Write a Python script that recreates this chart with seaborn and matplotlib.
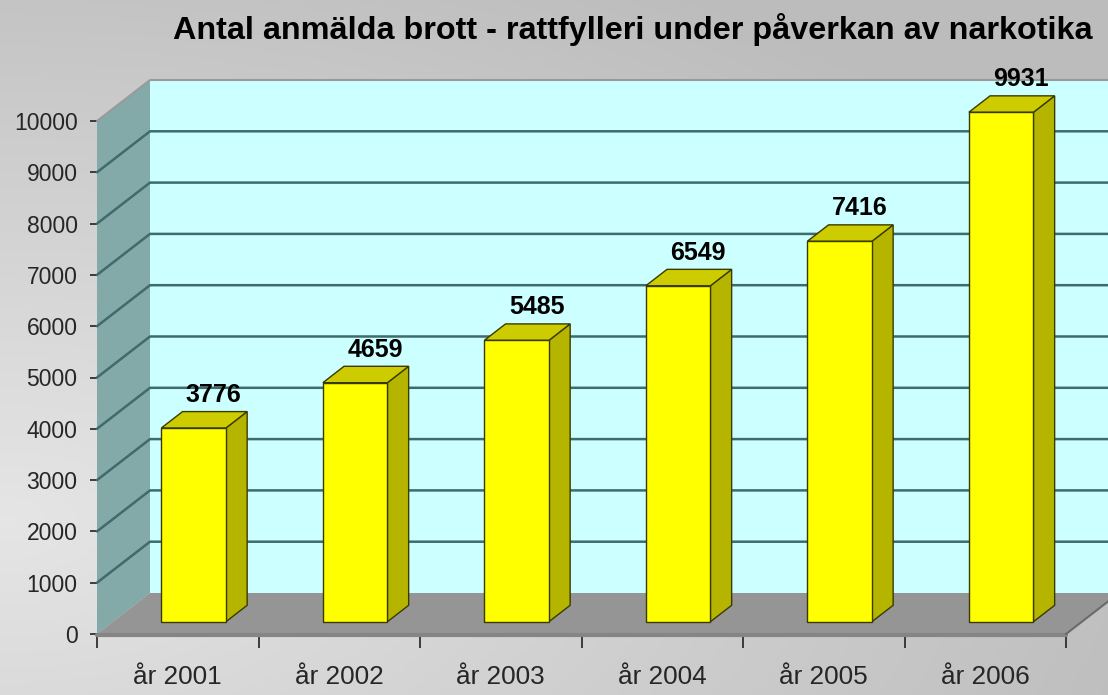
import numpy as np
import pandas as pd
import matplotlib
matplotlib.use("Agg")
import matplotlib.pyplot as plt
import seaborn as sns
from matplotlib.patches import Polygon
from matplotlib.lines import Line2D
from matplotlib.transforms import IdentityTransform, Affine2D

# ---------------- data ----------------
years = ["år 2001", "år 2002", "år 2003", "år 2004", "år 2005", "år 2006"]
values = [3776, 4659, 5485, 6549, 7416, 9931]
yticks = list(range(0, 10001, 1000))
title = "Antal anmälda brott - rattfylleri under påverkan av narkotika"

# ---------------- style ----------------
sns.set_style("white")
plt.rcParams["font.family"] = ["Liberation Sans", "DejaVu Sans"]

W, H, DPI = 1108, 695, 100
fig = plt.figure(figsize=(W / DPI, H / DPI), dpi=DPI)

# background gradient
bg = fig.add_axes([0, 0, 1, 1], zorder=-10)
gx, gy = np.meshgrid(np.linspace(0, 1, 300), np.linspace(1, 0, 200))
dist = np.sqrt(((gx - 0.0) * 1.0) ** 2 + ((gy - 0.25) * 1.2) ** 2)
shade = 0.90 - 0.16 * np.clip(dist / 1.1, 0, 1)
bg.imshow(np.dstack([shade] * 3), extent=[0, 1, 0, 1], aspect="auto")
bg.axis("off")

ax = fig.add_axes([97 / W, 61 / H, 969 / W, 513 / H])
df = pd.DataFrame({"year": years, "value": values})
sns.barplot(data=df, x="year", y="value", color="#FFFF00", width=0.4,
            edgecolor="#3a3a00", linewidth=1.0, saturation=1, ax=ax)
ax.set_xlim(-0.5, 5.5)
ax.set_ylim(0, 10000)
ax.patch.set_visible(False)
for s in ax.spines.values():
    s.set_visible(False)

DX, DY = 53.0, 41.0   # full depth in pixels
F0, F1 = 0.3, 0.7     # bar depth range


def P(x, y, d):
    px, py = ax.transData.transform((x, y))
    return (px + d * DX, py + d * DY)


ID = IdentityTransform()
x0, x1 = -0.5, 5.5
ymax = 10000


def poly(pts, fc, ec="none", lw=0, z=1):
    ax.add_artist(Polygon(pts, closed=True, transform=ID, facecolor=fc,
                          edgecolor=ec, lw=lw, zorder=z, clip_on=False))


def line(pts, color, lw, z):
    ax.add_artist(Line2D([p[0] for p in pts], [p[1] for p in pts], transform=ID,
                         color=color, lw=lw, zorder=z, clip_on=False))


# back wall and side wall
poly([P(x0, 0, 1), P(x1, 0, 1), P(x1, ymax, 1), P(x0, ymax, 1)], "#CCFFFF", z=0.5)
poly([P(x0, 0, 0), P(x0, ymax, 0), P(x0, ymax, 1), P(x0, 0, 1)], "#84A9A9", z=0.5)
line([P(x0, ymax, 0), P(x0, ymax, 1), P(x1, ymax, 1)], "#9a9a9a", 1.5, 0.6)
for v in yticks[1:-1]:
    line([P(x0, v, 0), P(x0, v, 1), P(x1, v, 1)], "#3F6B6B", 1.8, 0.6)
# floor
poly([P(x0, 0, 0), P(x1, 0, 0), P(x1, 0, 1), P(x0, 0, 1)], "#959595", z=0.7)
a, b = P(x0, 0, 0), P(x1, 0, 0)
line([(a[0], a[1] - 1), (b[0], b[1] - 1)], "#858585", 3, 0.75)
line([P(x1, 0, 0), P(x1, 0, 1)], "#6a6a6a", 1.5, 0.75)

# bars: shift front faces and add side/top faces
shift = Affine2D().translate(F0 * DX, F0 * DY)
for patch, v in zip(ax.patches[:len(values)], values):
    bx, bw, bh = patch.get_x(), patch.get_width(), patch.get_height()
    patch.set_transform(ax.transData + shift)
    patch.set_clip_on(False)
    patch.set_zorder(3)
    side = [P(bx + bw, 0, F0), P(bx + bw, bh, F0), P(bx + bw, bh, F1), P(bx + bw, 0, F1)]
    top = [P(bx, bh, F0), P(bx + bw, bh, F0), P(bx + bw, bh, F1), P(bx, bh, F1)]
    poly(side, "#B5B500", "#3a3a00", 1.0, 2.5)
    poly(top, "#CCCC00", "#3a3a00", 1.0, 2.5)
    ax.annotate(f"{v}", xy=(bx + bw / 2, bh), xycoords="data",
                xytext=(F1 * DX - 1, F0 * DY + 33), textcoords="offset pixels",
                ha="center", va="center", fontsize=18, fontweight="bold",
                color="black", annotation_clip=False, zorder=5)

# axes ticks
ax.set_yticks(yticks)
ax.set_yticklabels([str(t) for t in yticks])
ax.tick_params(axis="y", which="major", length=5, width=1.2, color="#222222",
               labelsize=16.5, pad=9, left=True)
ax.set_xticks(range(len(years)))
ax.set_xticklabels(years)
ax.set_xticks(np.arange(-0.5, len(years), 1), minor=True)
ax.tick_params(axis="x", which="major", length=0, labelsize=18.8, pad=22)
ax.tick_params(axis="x", which="minor", length=10, width=1.2, color="#222222",
               bottom=True)
ax.set_xlabel("")
ax.set_ylabel("")

fig.text(633 / W, 1 - 30 / H, title, ha="center", va="center",
         fontsize=23.3, fontweight="bold", color="black")

fig.savefig("out.png", dpi=DPI)
